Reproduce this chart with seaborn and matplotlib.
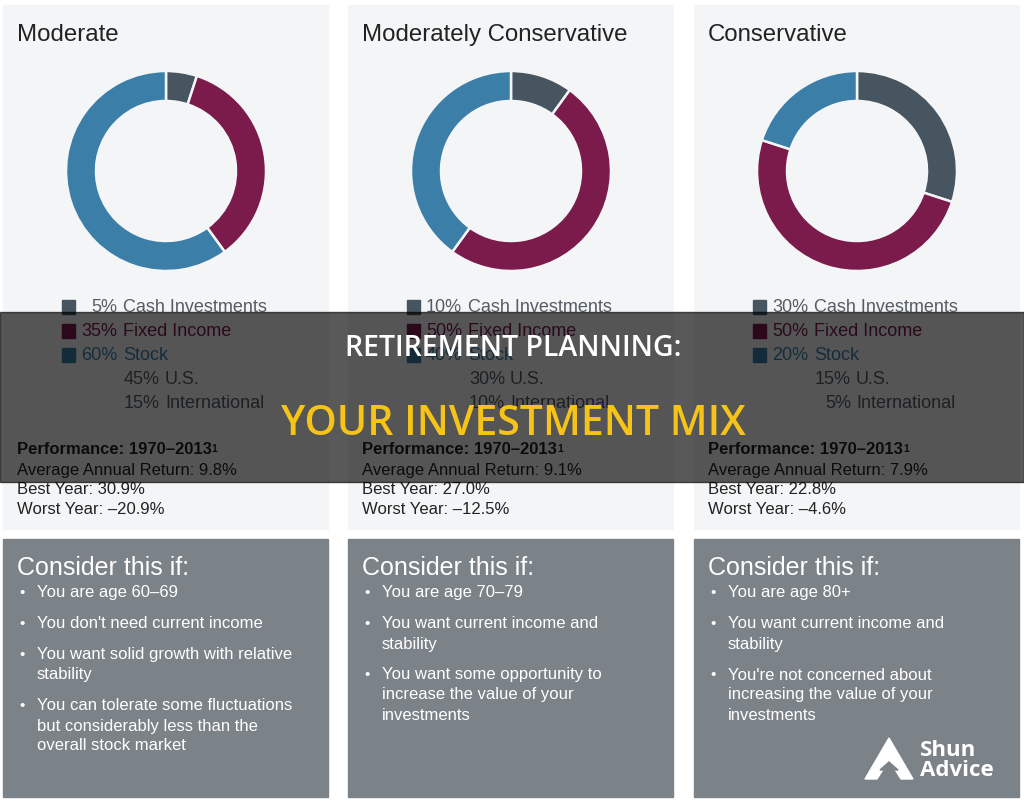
import numpy as np
import matplotlib
matplotlib.use("Agg")
from matplotlib import pyplot as plt
from matplotlib.patches import Rectangle, Polygon
import seaborn as sns

sns.set_theme(style="white")
plt.rcParams['font.family'] = ['Liberation Sans', 'DejaVu Sans']

# data
profiles = ["Moderate", "Moderately Conservative", "Conservative"]
cash = [5, 10, 30]
fixed = [35, 50, 50]
stock = [60, 40, 20]
stock_us = [45, 30, 15]
stock_intl = [15, 10, 5]
avg_return = ["9.8%", "9.1%", "7.9%"]
best_year = ["30.9%", "27.0%", "22.8%"]
worst_year = ["\u201320.9%", "\u201312.5%", "\u20134.6%"]
consider = [
    ["You are age 60\u201369",
     "You don't need current income",
     "You want solid growth with relative\nstability",
     "You can tolerate some fluctuations\nbut considerably less than the\noverall stock market"],
    ["You are age 70\u201379",
     "You want current income and\nstability",
     "You want some opportunity to\nincrease the value of your\ninvestments"],
    ["You are age 80+",
     "You want current income and\nstability",
     "You're not concerned about\nincreasing the value of your\ninvestments"],
]
slice_names = ["Cash Investments", "Fixed Income", "Stock"]
colors = sns.color_palette(["#46555f", "#7b1b4b", "#3b7ea7"])

W, H = 1024, 802
fig = plt.figure(figsize=(W / 100, H / 100), dpi=100)
fig.patch.set_facecolor("white")
ax = fig.add_axes([0, 0, 1, 1])
ax.set_xlim(0, W)
ax.set_ylim(H, 0)
ax.axis("off")

offsets = [0, 345, 691]
light = "#f3f5f7"
dark_box = "#7b8288"
txt = "#222222"

for i, off in enumerate(offsets):
    ax.add_patch(Rectangle((3 + off, 5), 325, 524, color=light, zorder=0))
    ax.add_patch(Rectangle((3 + off, 539), 325, 258, color=dark_box, zorder=0))
    ax.text(17 + off, 35, profiles[i], fontsize=17.3, color=txt, va="center")

    # donut
    cx, cy, r = 166 + off, 171, 101
    dax = fig.add_axes([(cx - r) / W, 1 - (cy + r) / H, 2 * r / W, 2 * r / H])
    dax.pie([cash[i], fixed[i], stock[i]], colors=colors, startangle=90,
            counterclock=False, radius=1,
            wedgeprops=dict(width=0.3, edgecolor=light, linewidth=1.8))
    dax.set_xlim(-1.01, 1.01)
    dax.set_ylim(-1.01, 1.01)
    dax.axis("off")

    # legend
    vals = [cash[i], fixed[i], stock[i]]
    for k in range(3):
        y = 308 + 24 * k
        ax.add_patch(Rectangle((62 + off, y - 8), 13, 14, color=colors[k], zorder=2))
        ax.text(117 + off, y, f"{vals[k]}%", fontsize=13, color=colors[k] if k else "#555c63",
                ha="right", va="center", zorder=2)
        ax.text(123 + off, y, slice_names[k], fontsize=13, color=colors[k] if k else "#555c63",
                va="center", zorder=2)
    for k, (v, name) in enumerate([(stock_us[i], "U.S."), (stock_intl[i], "International")]):
        y = 380 + 24 * k
        ax.text(160 + off, y, f"{v}%", fontsize=13, color="#555c63", ha="right", va="center")
        ax.text(165 + off, y, name, fontsize=13, color="#555c63", va="center")

    # performance
    perf = ax.text(17 + off, 450, "Performance: 1970\u20132013", fontsize=12,
                   fontweight="bold", color=txt, va="center")
    ax.text(17 + off, 470, f"Average Annual Return: {avg_return[i]}", fontsize=12,
            color=txt, va="center")
    ax.text(17 + off, 490, f"Best Year: {best_year[i]}", fontsize=12, color=txt, va="center")
    ax.text(17 + off, 509, f"Worst Year: {worst_year[i]}", fontsize=12, color=txt, va="center")
    fig.canvas.draw()
    bb = perf.get_window_extent(fig.canvas.get_renderer())
    ax.text(bb.x1, H - bb.y1 + 2, "1", fontsize=7.5, fontweight="bold",
            color=txt, va="top")

    # consider box
    ax.text(17 + off, 568, "Consider this if:", fontsize=18, color="white", va="center")
    y = 593
    for item in consider[i]:
        lines = item.split("\n")
        ax.text(19 + off, y, "\u2022", fontsize=11, color="white", va="center")
        for j, line in enumerate(lines):
            ax.text(37 + off, y + 20 * j, line, fontsize=12, color="white", va="center")
        y += 20 * (len(lines) - 1) + 31

# banner overlay
ax.add_patch(Rectangle((0, 312), W, 170, color="black", alpha=0.65, zorder=5))
ax.text(W / 2 + 1, 348, "RETIREMENT PLANNING:", fontsize=20.5, color="white",
        fontfamily="Open Sans", fontweight="semibold", ha="center", va="center", zorder=6)
ax.text(W / 2 + 1, 424, "YOUR INVESTMENT MIX", fontsize=29.5, color="#f6c319",
        fontfamily="Open Sans", fontweight="semibold", ha="center", va="center", zorder=6)

# logo
ax.add_patch(Polygon([(889, 738), (865, 779), (877, 779), (889, 760), (901, 779), (913, 779)],
                     closed=True, color="white", zorder=6))
ax.add_patch(Polygon([(880, 770), (889, 762), (898, 770)], closed=True, color=dark_box, zorder=7))
ax.text(920, 751, "Shun", fontsize=16, fontweight="bold", color="white",
        fontfamily="Open Sans", va="center", zorder=6)
ax.text(920, 771, "Advice", fontsize=16, fontweight="bold", color="white",
        fontfamily="Open Sans", va="center", zorder=6)

fig.savefig("out.png", dpi=100, facecolor="white")
